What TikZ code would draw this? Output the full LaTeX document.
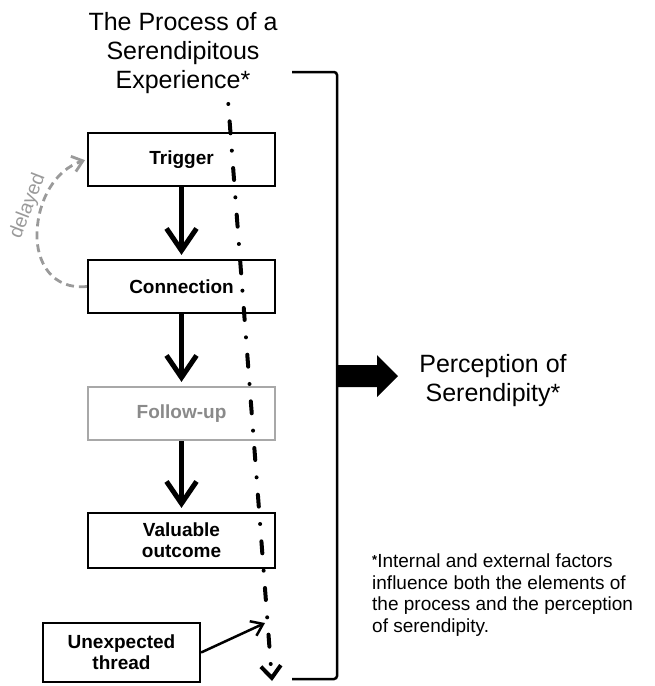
\documentclass[tikz,border=0pt]{standalone}
\usepackage{fontspec}
\setmainfont{Liberation Sans}
\usetikzlibrary{arrows.meta}
\definecolor{lgray}{HTML}{A8A8A8}
\definecolor{tgray}{HTML}{8A8A8A}
\definecolor{dgray}{HTML}{9A9A9A}
\begin{document}
\begin{tikzpicture}[x=1pt,y=-1pt,
  box/.style={draw, line width=2.2pt, minimum width=187pt, minimum height=53pt, inner sep=0pt,
    font=\fontsize{19}{22}\selectfont\bfseries, align=center},
  flow/.style={line width=5pt, -{Straight Barb[length=22pt,width=30pt]}, shorten >=4pt},
  bigtext/.style={font=\fontsize{25}{29}\selectfont, align=center, inner sep=0pt},
  dashdot/.style={line width=4pt, line cap=round,
    dash pattern=on 12pt off 17.4pt on 0pt off 17.4pt, dash phase=25.4pt,
    -{Straight Barb[length=12pt,width=20pt]}},
  delayarrow/.style={dgray, line width=2.8pt, dash pattern=on 8pt off 5pt,
    -{Straight Barb[length=10pt,width=16pt]}, shorten >=2pt},
  bracket/.style={line width=2.5pt, rounded corners=3pt}
]
\useasboundingbox (0,0) rectangle (654,686);

% title
\node[bigtext] (title) at (183,53) {The Process of a\\Serendipitous\\Experience*};

% boxes
\node[box] (trig) at (181.5,159.5) {Trigger};
\node[box] (conn) at (181.5,286.5) {Connection};
\node[box, draw=lgray, text=tgray] (fol) at (181.5,413.5) {Follow-up};
\node[box, minimum height=55pt] (val) at (181.5,540.5) {Valuable\\[-1pt]outcome};
\node[box, minimum width=157pt, minimum height=59pt] (unex) at (121.5,652.5) {Unexpected\\[-1pt]thread};

% flow arrows
\draw[flow] (trig.south) -- (conn.north);
\draw[flow] (conn.south) -- (fol.north);
\draw[flow] (fol.south) -- (val.north);

% delayed
\coordinate (dl) at (37,233);
\draw[delayarrow] (conn.west) .. controls (52,290) and (36,262) .. (dl)
  .. controls (38,200) and (55,170) .. (trig.west);
\node[dgray, rotate=69, font=\fontsize{19.5}{20}\selectfont, inner sep=0pt] (del) at (28,206) {delayed};

% dash-dot thread
\coordinate (dtop) at (228,100);
\coordinate (dbot) at (272,681);
\draw[dashdot] (dtop) -- (dbot);

% unexpected thread arrow
\coordinate (thr) at (265,623);
\draw[line width=2.5pt, -{Straight Barb[length=11pt,width=16pt]}] (unex.east) -- (thr);

% bracket
\coordinate (b1) at (292,72);
\coordinate (b2) at (337,72);
\coordinate (b3) at (337,679);
\coordinate (b4) at (292,679);
\draw[bracket] (b1) -- (b2) -- (b3) -- (b4);

% big arrow
\coordinate (ba) at (337,376);
\fill (ba) ++(0,-11) -- ++(40,0) -- ++(0,-10) -- (398,376) -- (377,397) -- (377,387) -- (337,387) -- cycle;

% perception
\node[bigtext] (perc) at (493,381) {Perception of\\Serendipity*};

% footnote
\node[anchor=west, align=left, inner sep=0pt, font=\fontsize{19}{21.6}\selectfont] (note) at (372,595)
  {\raisebox{0.35ex}{\fontsize{13}{13}\selectfont\bfseries*}Internal and external factors\\
   influence both the elements of\\
   the process and the perception\\
   of serendipity.};
\end{tikzpicture}
\end{document}
